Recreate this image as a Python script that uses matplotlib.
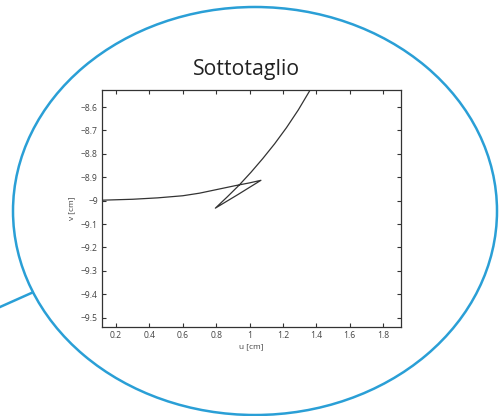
import matplotlib
matplotlib.use("Agg")
import matplotlib.pyplot as plt
from matplotlib.patches import Ellipse

plt.rcParams['font.family'] = ['Open Sans', 'DejaVu Sans']

# profilo del dente (sottotaglio)
u_cm = [0.116, 0.3, 0.45, 0.6, 0.7, 0.8, 0.92, 1.0, 1.068,
        1.0, 0.93, 0.86, 0.795,
        0.866, 0.937, 1.008, 1.079, 1.150, 1.221, 1.292, 1.362, 1.38]
v_cm = [-8.998, -8.994, -8.988, -8.979, -8.968, -8.953, -8.935, -8.924, -8.913,
        -8.943, -8.974, -9.004, -9.032,
        -8.984, -8.934, -8.879, -8.820, -8.757, -8.688, -8.612, -8.528, -8.505]

xticks = [0.2, 0.4, 0.6, 0.8, 1, 1.2, 1.4, 1.6, 1.8]
yticks = [-8.6, -8.7, -8.8, -8.9, -9, -9.1, -9.2, -9.3, -9.4, -9.5]

W, H = 503, 416
fig = plt.figure(figsize=(W / 100, H / 100), dpi=100)

# sfondo con lente (ellisse blu)
bg = fig.add_axes([0, 0, 1, 1])
bg.set_xlim(0, W)
bg.set_ylim(H, 0)
bg.axis('off')
blue = '#2a9fd6'
bg.add_patch(Ellipse((255, 211), 484, 408, fill=False, edgecolor=blue, linewidth=1.8))
bg.plot([0, 32.5], [307, 292.5], color=blue, linewidth=1.8)
bg.text(247, 70, 'Sottotaglio', ha='center', va='center', fontsize=15.3, color='#222222')

# grafico
ax = fig.add_axes([102 / W, 1 - 327 / H, (401 - 102) / W, (327 - 90) / H])
ax.plot(u_cm, v_cm, color='#333333', linewidth=0.9)
ax.set_xlim(0.116, 1.907)
ax.set_ylim(-9.54, -8.527)
ax.set_xticks(xticks)
ax.set_xticklabels(['0.2', '0.4', '0.6', '0.8', '1', '1.2', '1.4', '1.6', '1.8'])
ax.set_yticks(yticks)
ax.set_yticklabels(['\u22128.6', '\u22128.7', '\u22128.8', '\u22128.9', '\u22129',
                    '\u22129.1', '\u22129.2', '\u22129.3', '\u22129.4', '\u22129.5'])
ax.tick_params(direction='in', top=True, right=True, length=3, width=0.8,
               labelsize=6.2, colors='#333333', labelcolor='#444444', pad=3)
for s in ax.spines.values():
    s.set_color('#333333')
    s.set_linewidth(0.9)
ax.set_xlabel('u [cm]', fontsize=6, color='#444444', labelpad=2)
ax.set_ylabel('v [cm]', fontsize=6, color='#444444', labelpad=4)

fig.savefig('out.png', dpi=100)
